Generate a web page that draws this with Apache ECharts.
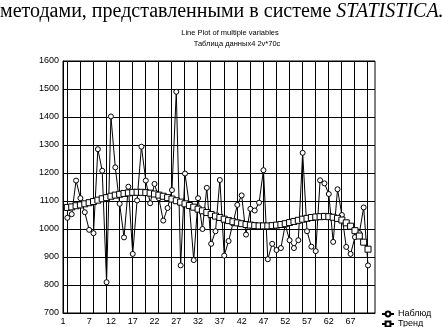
<!DOCTYPE html>
<html>
<head>
<meta charset="utf-8">
<script src="https://cdn.jsdelivr.net/npm/echarts@6/dist/echarts.min.js"></script>
<style>
html, body { margin: 0; padding: 0; background: #fff; }
#chart { width: 442px; height: 327px; }
</style>
</head>
<body>
<div id="chart"></div>
<script>
// Наблюдения, 70 случаев (Таблица данных4)
var observed = [
  1040, 1053, 1173, 1110, 1060, 997, 985, 1285, 1208, 810,
  1402, 1220, 1090, 970, 1151, 911, 1102, 1294, 1173, 1092,
  1161, 1110, 1030, 1075, 1139, 1490, 870, 1198, 1085, 889,
  1110, 1000, 1147, 947, 992, 1175, 905, 957, 1020, 1086,
  1120, 980, 1072, 1066, 1094, 1210, 892, 947, 925, 932,
  1015, 960, 932, 960, 1272, 992, 937, 921, 1174, 1163,
  1125, 954, 1142, 1050, 936, 911, 971, 985, 1077, 870
]
// Тренд
var trend = [
  1077, 1079, 1083, 1086, 1090, 1094, 1098, 1103, 1108, 1112,
  1117, 1121, 1124, 1127, 1129, 1131, 1131, 1131, 1130, 1128,
  1125, 1121, 1117, 1112, 1107, 1101, 1096, 1090, 1084, 1078,
  1071, 1065, 1059, 1052, 1046, 1041, 1035, 1030, 1026, 1022,
  1019, 1016, 1014, 1012, 1011, 1011, 1011, 1012, 1014, 1016,
  1019, 1023, 1027, 1031, 1035, 1038, 1041, 1043, 1044, 1045,
  1044, 1042, 1038, 1032, 1022, 1010, 994, 975, 953, 928
]
var xTickLabels = [1, 7, 12, 17, 22, 27, 32, 37, 42, 47, 52, 57, 62, 67]
var yMin = 700
var yMax = 1600
var yStep = 100

function toPairs(arr) {
  return arr.map(function(v, i) { return [i + 1, v] })
}

// вертикальная сетка идёт через 3 случая
var xGrid = []
for (var g = 0.9; g < 71; g += 3) {
  xGrid.push(g)
}

var chart = echarts.init(document.getElementById('chart'))
chart.setOption({
  animation: false,
  graphic: [
    {
      type: 'text',
      x: 0,
      y: 2,
      style: {
        text: '{a|методами, представленными в системе }{b|STATISTICA.}',
        rich: {
          a: { fontFamily: 'Liberation Serif', fontSize: 20, fill: '#000' },
          b: { fontFamily: 'Liberation Serif', fontSize: 20, fontStyle: 'italic', fill: '#000' }
        }
      }
    },
    {
      type: 'text',
      x: 230,
      y: 33,
      style: {
        text: 'Line Plot of multiple variables',
        fontFamily: 'Liberation Sans',
        fontSize: 7.5,
        fill: '#000',
        align: 'center',
        verticalAlign: 'middle'
      }
    },
    {
      type: 'text',
      x: 237,
      y: 44,
      style: {
        text: 'Таблица данных4 2v*70c',
        fontFamily: 'Liberation Sans',
        fontSize: 7.5,
        fill: '#000',
        align: 'center',
        verticalAlign: 'middle'
      }
    }
  ],
  legend: {
    orient: 'vertical',
    left: 381,
    top: 309,
    height: 40,
    padding: 0,
    itemWidth: 12,
    itemHeight: 6,
    itemGap: 0,
    textStyle: { fontFamily: 'Liberation Sans', fontSize: 9, lineHeight: 10, color: '#000', padding: [0, 0, 0, -1] },
    data: ['Наблюд', 'Тренд']
  },
  grid: {
    left: 63,
    right: 67,
    top: 61,
    bottom: 14,
    show: true,
    borderColor: '#000',
    borderWidth: 1,
    outerBoundsMode: 'none'
  },
  xAxis: {
    type: 'value',
    min: 0,
    max: 71.6,
    axisLine: { show: true, onZero: false, lineStyle: { color: '#000', width: 1 } },
    axisTick: { show: false, customValues: xGrid },
    splitLine: { show: true, lineStyle: { color: '#000', width: 1 } },
    axisLabel: {
      customValues: xTickLabels.map(function(v) { return v - 1 }),
      formatter: function(v) { return String(Math.round(v + 1)) },
      fontFamily: 'Liberation Sans',
      fontSize: 9,
      color: '#000',
      margin: 4
    }
  },
  yAxis: {
    type: 'value',
    min: yMin,
    max: yMax,
    interval: yStep,
    axisLine: { show: true, lineStyle: { color: '#000', width: 1 } },
    axisTick: { show: false },
    splitLine: { show: true, lineStyle: { color: '#000', width: 1 } },
    axisLabel: {
      formatter: function(v) { return String(v) },
      fontFamily: 'Liberation Sans',
      fontSize: 9,
      color: '#000',
      margin: 4
    }
  },
  series: [
    {
      name: 'Наблюд',
      type: 'line',
      data: toPairs(observed),
      symbol: 'circle',
      symbolSize: 5,
      lineStyle: { color: '#000', width: 1 },
      itemStyle: { color: '#fff', borderColor: '#000', borderWidth: 1 },
      z: 2
    },
    {
      name: 'Тренд',
      type: 'line',
      data: toPairs(trend),
      symbol: 'rect',
      symbolSize: 6,
      lineStyle: { color: '#000', width: 2 },
      itemStyle: { color: '#fff', borderColor: '#000', borderWidth: 1 },
      z: 3
    }
  ]
})
</script>
</body>
</html>
